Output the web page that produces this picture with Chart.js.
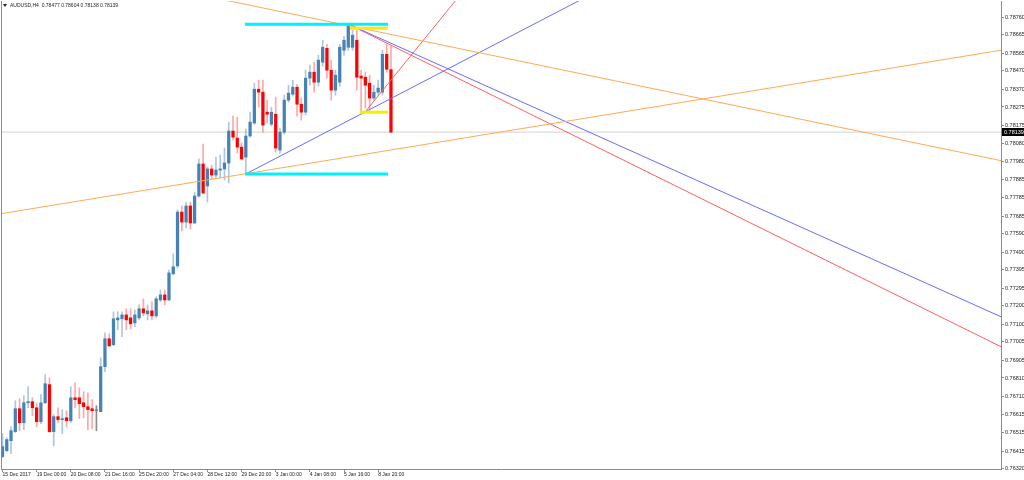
<!DOCTYPE html>
<html>
<head>
<meta charset="utf-8">
<script src="https://cdn.jsdelivr.net/npm/chart.js@4/dist/chart.umd.min.js"></script>
<style>
  html, body { margin: 0; padding: 0; background: #fff; }
  canvas { display: block; }
</style>
</head>
<body>
<canvas id="chart" width="1024" height="480"></canvas>
<script>
// AUDUSD H4 candles, bar 0 = 15 Dec 2017 16:00
const openP = [
  0.76385, 0.76417, 0.76471, 0.76520, 0.76644, 0.76568, 0.76676, 0.76682, 0.76649, 0.76574,
  0.76676, 0.76774, 0.76520, 0.76601, 0.76585, 0.76595, 0.76579, 0.76703, 0.76703, 0.76676,
  0.76655, 0.76644, 0.76633, 0.76628, 0.76871, 0.77022, 0.76990, 0.77124, 0.77130, 0.77151,
  0.77135, 0.77108, 0.77135, 0.77184, 0.77157, 0.77173, 0.77146, 0.77232, 0.77259, 0.77232,
  0.77373, 0.77416, 0.77707, 0.77653, 0.77740, 0.77648, 0.77794, 0.77967, 0.77848, 0.77940,
  0.77907, 0.77934, 0.77940, 0.77972, 0.78145, 0.78107, 0.78058, 0.78004, 0.78118, 0.78188,
  0.78371, 0.78355, 0.78247, 0.78182, 0.78236, 0.78042, 0.78139, 0.78312, 0.78344, 0.78382,
  0.78290, 0.78247, 0.78431, 0.78463, 0.78409, 0.78517, 0.78592, 0.78474, 0.78366, 0.78409,
  0.78582, 0.78598, 0.78598, 0.78636, 0.78442, 0.78436, 0.78404, 0.78323, 0.78355, 0.78355,
  0.78560, 0.78477
];
const highP = [
  0.76509, 0.76487, 0.76547, 0.76687, 0.76698, 0.76714, 0.76763, 0.76703, 0.76676, 0.76720,
  0.76828, 0.76811, 0.76612, 0.76649, 0.76639, 0.76633, 0.76763, 0.76784, 0.76757, 0.76736,
  0.76730, 0.76693, 0.76660, 0.76919, 0.77054, 0.77049, 0.77168, 0.77168, 0.77168, 0.77184,
  0.77184, 0.77179, 0.77205, 0.77238, 0.77205, 0.77222, 0.77249, 0.77286, 0.77286, 0.77394,
  0.77481, 0.77718, 0.77740, 0.77761, 0.77761, 0.77815, 0.77994, 0.78074, 0.77950, 0.77961,
  0.78004, 0.78015, 0.78053, 0.78193, 0.78226, 0.78220, 0.78080, 0.78155, 0.78247, 0.78404,
  0.78420, 0.78420, 0.78312, 0.78274, 0.78328, 0.78161, 0.78339, 0.78393, 0.78420, 0.78398,
  0.78323, 0.78474, 0.78501, 0.78517, 0.78555, 0.78636, 0.78614, 0.78528, 0.78474, 0.78614,
  0.78657, 0.78722, 0.78690, 0.78690, 0.78474, 0.78463, 0.78447, 0.78393, 0.78420, 0.78582,
  0.78614, 0.78604
];
const lowP = [
  0.76380, 0.76412, 0.76401, 0.76515, 0.76525, 0.76531, 0.76649, 0.76606, 0.76547, 0.76563,
  0.76671, 0.76515, 0.76444, 0.76568, 0.76509, 0.76547, 0.76568, 0.76649, 0.76590, 0.76595,
  0.76531, 0.76536, 0.76525, 0.76628, 0.76844, 0.76979, 0.76984, 0.77071, 0.77033, 0.77071,
  0.77076, 0.77087, 0.77124, 0.77146, 0.77124, 0.77124, 0.77135, 0.77222, 0.77205, 0.77227,
  0.77367, 0.77405, 0.77605, 0.77621, 0.77616, 0.77643, 0.77788, 0.77805, 0.77761, 0.77886,
  0.77891, 0.77891, 0.77880, 0.77864, 0.78096, 0.78026, 0.77988, 0.77912, 0.78112, 0.78182,
  0.78274, 0.78139, 0.78188, 0.78172, 0.78031, 0.78026, 0.78128, 0.78301, 0.78334, 0.78226,
  0.78204, 0.78231, 0.78393, 0.78355, 0.78387, 0.78495, 0.78431, 0.78312, 0.78339, 0.78387,
  0.78555, 0.78582, 0.78582, 0.78366, 0.78247, 0.78269, 0.78258, 0.78312, 0.78339, 0.78339,
  0.78463, 0.78138
];
const closeP = [
  0.76439, 0.76477, 0.76525, 0.76644, 0.76568, 0.76676, 0.76682, 0.76649, 0.76574, 0.76676,
  0.76779, 0.76520, 0.76601, 0.76585, 0.76590, 0.76579, 0.76703, 0.76693, 0.76671, 0.76655,
  0.76639, 0.76633, 0.76633, 0.76871, 0.77022, 0.76984, 0.77130, 0.77135, 0.77151, 0.77124,
  0.77103, 0.77151, 0.77184, 0.77162, 0.77173, 0.77146, 0.77238, 0.77259, 0.77232, 0.77378,
  0.77411, 0.77707, 0.77653, 0.77740, 0.77648, 0.77794, 0.77967, 0.77810, 0.77940, 0.77907,
  0.77934, 0.77940, 0.77972, 0.78145, 0.78112, 0.78058, 0.77994, 0.78118, 0.78193, 0.78371,
  0.78355, 0.78177, 0.78236, 0.78247, 0.78053, 0.78139, 0.78312, 0.78350, 0.78382, 0.78290,
  0.78247, 0.78431, 0.78463, 0.78409, 0.78528, 0.78598, 0.78474, 0.78366, 0.78447, 0.78598,
  0.78636, 0.78717, 0.78663, 0.78436, 0.78431, 0.78393, 0.78323, 0.78355, 0.78377, 0.78560,
  0.78479, 0.78139
];

const symbol = "AUDUSD,H4";
const xTickLabels = [
  "15 Dec 2017", "19 Dec 00:00", "20 Dec 08:00", "21 Dec 16:00", "25 Dec 20:00", "27 Dec 04:00",
  "28 Dec 12:00", "29 Dec 20:00", "3 Jan 00:00", "4 Jan 08:00", "5 Jan 16:00", "8 Jan 20:00"
];
const barsPerLabel = 8;
const yTickLabels = [
  "0.78760", "0.78665", "0.78565", "0.78470", "0.78370", "0.78275", "0.78175", "0.78080",
  "0.77980", "0.77885", "0.77785", "0.77685", "0.77590", "0.77490", "0.77395", "0.77295",
  "0.77200", "0.77100", "0.77005", "0.76905", "0.76810", "0.76710", "0.76615", "0.76515",
  "0.76415", "0.76320"
];

// drawn objects: [bar index, price] pairs
const orangeDown = [[52.3, 0.78852], [233.9, 0.77985]];
const orangeUp = [[-0.6, 0.77697], [233.9, 0.78582]];
const blueUp = [[57.0, 0.77913], [139.9, 0.78908]];
const blueDown = [[81.1, 0.78722], [233.9, 0.77141]];
const redDown = [[81.1, 0.78722], [233.9, 0.76979]];
const redUp = [[84.9, 0.78247], [106.2, 0.78852]];
const cyanTop = [[56.8, 0.78722], [90.3, 0.78722]];
const cyanBottom = [[56.8, 0.77913], [90.3, 0.77913]];
const yellowTop = [[81.4, 0.78701], [90.3, 0.78701]];
const yellowBottom = [[83.7, 0.78247], [90.3, 0.78247]];

const xMin = -0.35, xMax = 233.9;
const yMin = 0.76318, yMax = 0.78848;
const lastClose = closeP[closeP.length - 1];

const UP = "#4682b4", DOWN = "#ff0000", FLAT = "#808080";
const UP_WICK = "rgba(70,130,180,0.45)", DOWN_WICK = "rgba(255,0,0,0.35)", FLAT_WICK = "rgba(90,90,90,0.7)";

const dir = closeP.map((c, i) => c > openP[i] ? 1 : (c < openP[i] ? -1 : 0));
const bodyColors = dir.map(d => d > 0 ? UP : (d < 0 ? DOWN : FLAT));
const wickColors = dir.map(d => d > 0 ? UP_WICK : (d < 0 ? DOWN_WICK : FLAT_WICK));

const toXY = pts => pts.map(p => ({ x: p[0], y: p[1] }));
function seg(pts, color, width, order) {
  return {
    type: "line",
    data: toXY(pts),
    borderColor: color,
    borderWidth: width,
    pointRadius: 0,
    tension: 0,
    fill: false,
    order: order
  };
}

const FAMILY = "'Liberation Sans', Arial, sans-serif";

const chartDecor = {
  id: "chartDecor",
  afterDraw(chart) {
    const { ctx, chartArea, scales } = chart;
    ctx.save();
    ctx.strokeStyle = "#8c8c8c";
    ctx.lineWidth = 1;
    ctx.beginPath();
    ctx.moveTo(chartArea.left + 0.5, chartArea.top);
    ctx.lineTo(chartArea.left + 0.5, chartArea.bottom);
    ctx.stroke();

    // header, like the terminal's top-left info line
    const n = closeP.length - 1;
    const header = symbol + "  " + [openP[n], highP[n], lowP[n], closeP[n]].map(v => v.toFixed(5)).join(" ");
    ctx.fillStyle = "#222";
    ctx.beginPath();
    ctx.moveTo(3, 4);
    ctx.lineTo(7, 4);
    ctx.lineTo(5, 7);
    ctx.closePath();
    ctx.fill();
    ctx.font = "5px " + FAMILY;
    ctx.textBaseline = "middle";
    ctx.textAlign = "left";
    ctx.fillText(header, 10, 5.5);

    // current price tag
    const y = Math.round(scales.y.getPixelForValue(lastClose));
    ctx.fillStyle = "#000";
    ctx.fillRect(chartArea.right + 1, y - 4, 23, 8);
    ctx.fillStyle = "#fff";
    ctx.font = "5.5px " + FAMILY;
    ctx.fillText(lastClose.toFixed(5), chartArea.right + 3, y + 0.5);
    ctx.restore();
  }
};

new Chart(document.getElementById("chart"), {
  type: "bar",
  data: {
    datasets: [
      seg(cyanTop, "#00f0ff", 3, 0),
      seg(cyanBottom, "#00f0ff", 3, 0),
      seg(yellowTop, "#f5ee00", 3, 0),
      seg(yellowBottom, "#f5ee00", 3, 0),
      seg(orangeDown, "#ffaa55", 1, 0),
      seg(orangeUp, "#ffaa55", 1, 0),
      seg(blueUp, "#6b6bff", 1, 0),
      seg(blueDown, "#6b6bff", 1, 0),
      seg(redDown, "#ff6060", 1, 0),
      seg(redUp, "#ff6060", 1, 0),
      {
        type: "bar",
        data: openP.map((o, i) => ({ x: i, y: [o, closeP[i]] })),
        backgroundColor: bodyColors,
        barThickness: 2.6,
        minBarLength: 1,
        grouped: false,
        order: 2
      },
      {
        type: "bar",
        data: lowP.map((l, i) => ({ x: i, y: [l, highP[i]] })),
        backgroundColor: wickColors,
        barThickness: 1,
        grouped: false,
        order: 3
      },
      seg([[xMin, lastClose], [xMax, lastClose]], "#d2d2d2", 1, 4)
    ]
  },
  options: {
    responsive: false,
    animation: false,
    events: [],
    layout: { autoPadding: false, padding: { left: 1, top: 1, right: 0, bottom: 0 } },
    plugins: { legend: { display: false }, tooltip: { enabled: false } },
    scales: {
      x: {
        type: "linear",
        offset: false,
        min: xMin,
        max: xMax,
        afterFit: s => { s.height = 11; s.paddingLeft = 0; s.paddingRight = 0; },
        afterBuildTicks: s => { s.ticks = xTickLabels.map((_, i) => ({ value: i * barsPerLabel })); },
        ticks: {
          autoSkip: false,
          maxRotation: 0,
          align: "start",
          padding: 0,
          color: "#222",
          font: { family: FAMILY, size: 5 },
          callback: (v, i) => xTickLabels[i]
        },
        grid: { offset: false, drawOnChartArea: false, drawTicks: true, tickLength: 3, color: "#8c8c8c" },
        border: { display: true, color: "#8c8c8c" }
      },
      y: {
        position: "right",
        min: yMin,
        max: yMax,
        afterFit: s => { s.width = 23; s.paddingTop = 0; s.paddingBottom = 0; },
        afterBuildTicks: s => { s.ticks = yTickLabels.map(t => ({ value: parseFloat(t) })); },
        ticks: {
          padding: 1,
          color: "#222",
          font: { family: FAMILY, size: 5.5 },
          callback: (v, i) => yTickLabels[i]
        },
        grid: { drawOnChartArea: false, drawTicks: true, tickLength: 3, color: "#8c8c8c" },
        border: { display: true, color: "#8c8c8c" }
      }
    }
  },
  plugins: [chartDecor]
});
</script>
</body>
</html>
